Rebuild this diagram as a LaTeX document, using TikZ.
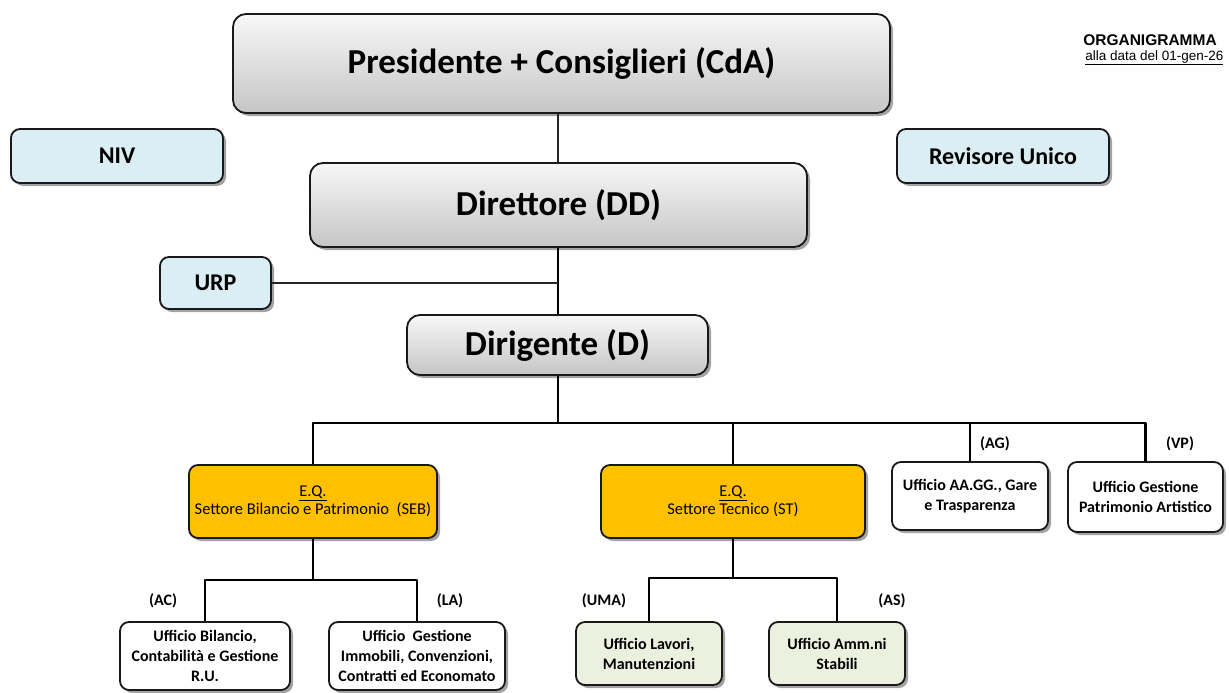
\documentclass[tikz,border=0pt]{standalone}
\usepackage{fontspec}
\setmainfont{Carlito}
\newfontfamily\arialfont{Liberation Sans}
\usetikzlibrary{positioning,shapes,shadows}
\definecolor{boxblue}{RGB}{219,238,244}
\definecolor{boxyellow}{RGB}{255,192,0}
\definecolor{boxgreen}{RGB}{235,241,222}
\definecolor{boxline}{RGB}{25,25,25}
\tikzset{
    basebox/.style={
        rounded corners=9pt,
        draw=boxline,
        line width=1.8pt,
        align=center,
        inner sep=0pt,
        drop shadow={shadow xshift=3pt, shadow yshift=-3pt, fill=black!60, opacity=0.6}
    },
    % caselle grigie in alto
    graybox/.style={
        basebox,
        rounded corners=13pt,
        top color=gray!6,
        bottom color=gray!45,
        font=\bfseries\fontsize{35}{40}\selectfont
    },
    bluebox/.style={
        basebox,
        fill=boxblue,
        font=\bfseries\fontsize{24}{28}\selectfont
    },
    yellowbox/.style={
        basebox,
        fill=boxyellow,
        font=\fontsize{16.5}{18}\selectfont
    },
    whitebox/.style={
        basebox,
        fill=white,
        font=\bfseries\fontsize{16}{20}\selectfont
    },
    greenbox/.style={
        basebox,
        fill=boxgreen,
        font=\bfseries\fontsize{16}{20}\selectfont
    },
    codelabel/.style={
        font=\bfseries\fontsize{16}{18}\selectfont
    },
    thinline/.style={line width=1.2pt, black!85},
    busline/.style={line width=2.2pt, black, line join=round}
}

\begin{document}
\begin{tikzpicture}[x=1pt,y=-1pt]
\useasboundingbox (0,0) rectangle (1229,693);

% ===================== vertice =====================
\node[graybox, minimum width=657pt, minimum height=99pt] (cda) at (561.5,63.5) {Presidente + Consiglieri (CdA)};
\node[bluebox, minimum width=212pt, minimum height=54pt] (niv) at (117,156) {NIV};
\node[bluebox, minimum width=212pt, minimum height=54pt] (rev) at (1003,156) {Revisore Unico};
\node[graybox, minimum width=497pt, minimum height=84pt] (dd) at (558.5,205) {Direttore (DD)};
\node[bluebox, minimum width=111pt, minimum height=52pt] (urp) at (215.5,283) {URP};
\node[graybox, minimum width=301pt, minimum height=60pt] (dir) at (557.5,345) {Dirigente (D)};

% intestazione
\node[font=\arialfont\bfseries\fontsize{15.5}{18}\selectfont] (titolo) at (1150,40) {ORGANIGRAMMA};
\node[font=\arialfont\fontsize{13.5}{16}\selectfont, anchor=east] (data) at (1227,58) {\underline{alla data del 01-gen-26}};

\draw[thinline] (dd.north -| 558,0) -- (cda.south -| 558,0);
\draw[busline] (dd.south -| 558,0) -- (dir.north -| 558,0);
\draw[thinline] (urp.east) -- (urp.east -| 558,0);

% ===================== settori =====================
\node[yellowbox, minimum width=248pt, minimum height=73pt] (seb) at (313,501.5) {\underline{E.Q.}\\Settore Bilancio e Patrimonio\ \ (SEB)};
\node[yellowbox, minimum width=264pt, minimum height=73pt] (st) at (733,501.5) {\underline{E.Q.}\\Settore Tecnico (ST)};
\node[whitebox, minimum width=156pt, minimum height=68pt] (ag) at (970,496) {Ufficio AA.GG., Gare\\e Trasparenza};
\node[whitebox, minimum width=155pt, minimum height=70pt] (vp) at (1145.5,497) {Ufficio Gestione\\Patrimonio Artistico};
\node[codelabel] (agl) at (995,444) {(AG)};
\node[codelabel] (vpl) at (1180,444) {(VP)};

\coordinate (bus) at (558,423);
\draw[busline] (dir.south -| bus) -- (bus);
\draw[busline] (seb.north) |- (vp.north |- bus) -- (vp.north);
\draw[busline] (st.north) -- (st.north |- bus);
\draw[busline] (ag.north) -- (ag.north |- bus);

% ===================== uffici SEB =====================
\node[whitebox, minimum width=170pt, minimum height=68pt] (ac) at (205,656) {Ufficio Bilancio,\\Contabilità e Gestione\\R.U.};
\node[whitebox, minimum width=176pt, minimum height=68pt] (la) at (417,656) {Ufficio\ \ Gestione\\Immobili, Convenzioni,\\Contratti ed Economato};
\node[codelabel] (acl) at (163,601) {(AC)};
\node[codelabel] (lal) at (450,601) {(LA)};

\coordinate (sebj) at (313,580);
\draw[busline] (seb.south) -- (sebj);
\draw[busline] (ac.north) |- (la.north |- sebj) -- (la.north);

% ===================== uffici ST =====================
\node[greenbox, minimum width=146pt, minimum height=63pt] (uma) at (649,653.5) {Ufficio Lavori,\\Manutenzioni};
\node[greenbox, minimum width=136pt, minimum height=63pt] (as) at (837,653.5) {Ufficio Amm.ni\\Stabili};
\node[codelabel] (umal) at (604,601) {(UMA)};
\node[codelabel] (asl) at (892,601) {(AS)};

\coordinate (stj) at (733,578);
\draw[busline] (st.south) -- (stj);
\draw[busline] (uma.north) |- (as.north |- stj) -- (as.north);
\end{tikzpicture}
\end{document}
